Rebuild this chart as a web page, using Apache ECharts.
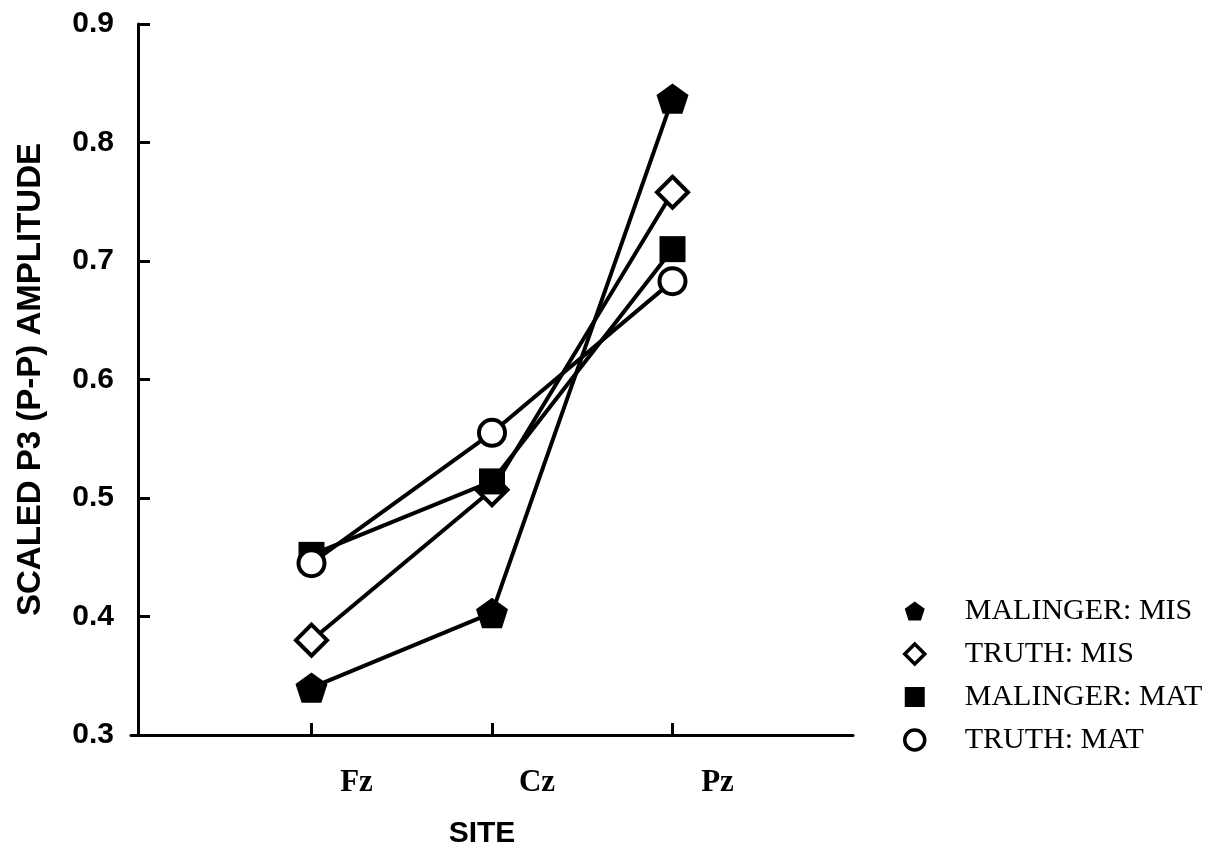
<!DOCTYPE html>
<html>
<head>
<meta charset="utf-8">
<script src="https://cdn.jsdelivr.net/npm/echarts@6/dist/echarts.min.js"></script>
<style>
  html, body { margin: 0; padding: 0; background: #fff; }
  #chart { width: 1231px; height: 858px; }
</style>
</head>
<body>
<div id="chart"></div>
<script>
// ---- data ----
const sites = ['Fz', 'Cz', 'Pz'];
const yTicks = [0.3, 0.4, 0.5, 0.6, 0.7, 0.8, 0.9];
const seriesNames = ['MALINGER: MIS', 'TRUTH: MIS', 'MALINGER: MAT', 'TRUTH: MAT'];
const malingerMis = [0.340, 0.403, 0.837];
const truthMis = [0.380, 0.507, 0.758];
const malingerMat = [0.452, 0.514, 0.710];
const truthMat = [0.445, 0.555, 0.683];

const PENTAGON = 'path://M0,-10 L9.511,-3.09 L5.878,8.09 L-5.878,8.09 L-9.511,-3.09 Z';
const DIAMOND = 'path://M0,-10 L10,0 L0,10 L-10,0 Z';

// axis slots: empty slot before and after the three sites
const axisSlots = [''].concat(sites).concat([' ']);
const pairs = vals => sites.map((s, i) => [s, vals[i]]);

const filled = { color: '#000', borderColor: '#000', borderWidth: 0 };
const hollow = { color: '#fff', borderColor: '#000', borderWidth: 4 };

const seriesDefs = [
  { name: seriesNames[0], data: malingerMis, symbol: PENTAGON, size: 32, style: filled },
  { name: seriesNames[1], data: truthMis, symbol: DIAMOND, size: 31, style: hollow },
  { name: seriesNames[2], data: malingerMat, symbol: 'rect', size: 26, style: filled },
  { name: seriesNames[3], data: truthMat, symbol: 'circle', size: 26, style: hollow }
];

const chart = echarts.init(document.getElementById('chart'), null, { renderer: 'canvas' });

chart.setOption({
  backgroundColor: '#fff',
  animation: false,
  grid: { left: 131, right: 378, top: 24, bottom: 123, containLabel: false },
  xAxis: {
    type: 'category',
    data: axisSlots,
    boundaryGap: false,
    name: 'SITE',
    nameLocation: 'middle',
    nameGap: 84,
    nameTextStyle: { fontFamily: 'Liberation Sans, Arial, sans-serif', fontWeight: 'bold', fontSize: 30, color: '#000', padding: [0, 20, 0, 0] },
    axisLine: { lineStyle: { color: '#000', width: 3 } },
    axisTick: { inside: true, length: 12, lineStyle: { color: '#000', width: 3 }, interval: (i) => i >= 1 && i <= sites.length },
    axisLabel: {
      interval: (i) => i >= 1 && i <= sites.length,
      margin: 32,
      padding: [0, 0, 0, 90],
      fontFamily: 'Liberation Serif, Times New Roman, serif',
      fontWeight: 'bold',
      fontSize: 31,
      color: '#000'
    },
    splitLine: { show: false }
  },
  yAxis: {
    type: 'value',
    min: yTicks[0],
    max: yTicks[yTicks.length - 1],
    interval: 0.1,
    offset: -7,
    name: 'SCALED P3 (P-P) AMPLITUDE',
    nameLocation: 'middle',
    nameRotate: 90,
    nameGap: 91,
    nameTextStyle: { fontFamily: 'Liberation Sans, Arial, sans-serif', fontWeight: 'bold', fontSize: 33, color: '#000' },
    axisLine: { show: true, lineStyle: { color: '#000', width: 3 } },
    axisTick: { show: true, inside: true, length: 12, lineStyle: { color: '#000', width: 3 } },
    axisLabel: {
      margin: 24,
      formatter: v => v.toFixed(1),
      fontFamily: 'Liberation Sans, Arial, sans-serif',
      fontWeight: 'bold',
      fontSize: 30,
      color: '#000'
    },
    splitLine: { show: false }
  },
  legend: {
    orient: 'vertical',
    left: 898,
    top: 591,
    itemWidth: 20,
    itemHeight: 20,
    itemGap: 13,
    selectedMode: false,
    textStyle: { fontFamily: 'Liberation Serif, Times New Roman, serif', fontSize: 30, color: '#000', padding: [0, 0, 0, 35] },
    data: seriesDefs.map(d => ({
      name: d.name,
      icon: d.symbol,
      itemStyle: d.style === hollow ? { color: '#fff', borderColor: '#000', borderWidth: 3.5 } : { color: '#000', borderWidth: 0 }
    }))
  },
  series: seriesDefs.map(d => ({
    name: d.name,
    type: 'line',
    data: pairs(d.data),
    symbol: d.symbol,
    symbolSize: d.size,
    symbolKeepAspect: true,
    showAllSymbol: true,
    lineStyle: { color: '#000', width: 4 },
    itemStyle: d.style,
    emphasis: { disabled: true }
  }))
});
</script>
</body>
</html>
